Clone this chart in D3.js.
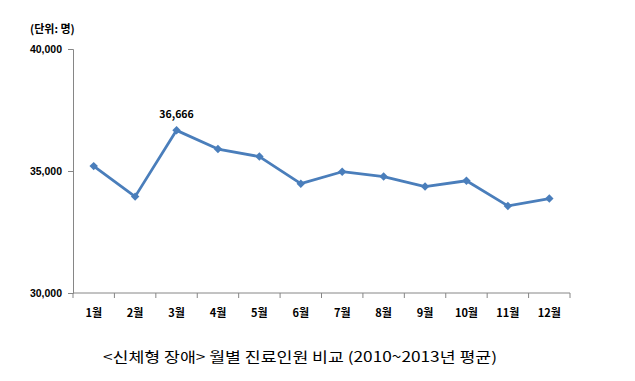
<!DOCTYPE html>
<html>
<head>
<meta charset="utf-8">
<script src="https://cdn.jsdelivr.net/npm/d3@7"></script>
<style>
  body { margin: 0; background: #fff; }
  svg { display: block; font-family: "Noto Sans CJK KR", "Noto Sans", sans-serif; }
</style>
</head>
<body>
<svg id="chart" width="635" height="381"></svg>
<script>
// monthly averages
const months = ["1월", "2월", "3월", "4월", "5월", "6월", "7월", "8월", "9월", "10월", "11월", "12월"];
const patients = [35200, 33950, 36666, 35900, 35590, 34480, 34970, 34770, 34360, 34600, 33570, 33870];
const yTicks = [30000, 35000, 40000];
const peakLabel = "36,666";

const svg = d3.select("#chart");
const plotL = 73, plotR = 570, plotT = 49, plotB = 293;
const axisColor = "#868686";
const lineColor = "#4a7ebb";

const x = d3.scaleBand().domain(months).range([plotL, plotR]);
const y = d3.scaleLinear().domain([30000, 40000]).range([plotB, plotT]);

// y axis
const yAxis = svg.append("g").attr("transform", `translate(${plotL},0)`)
  .call(d3.axisLeft(y).tickValues(yTicks).tickSize(5).tickPadding(6)
    .tickFormat(d3.format(",")));
yAxis.select(".domain").attr("stroke", axisColor);
yAxis.selectAll(".tick line").attr("stroke", axisColor);
yAxis.selectAll("text").attr("font-size", 10.5).attr("font-weight", "bold")
  .attr("fill", "#000");

// x axis: ticks at band edges, labels centered
const xAxis = svg.append("g").attr("transform", `translate(0,${plotB})`);
xAxis.append("line").attr("x1", plotL).attr("x2", plotR).attr("stroke", axisColor);
const edges = months.map((m) => x(m)).concat([plotR]);
xAxis.selectAll("line.tk").data(edges).join("line").attr("class", "tk")
  .attr("x1", (d) => d).attr("x2", (d) => d).attr("y1", 0).attr("y2", 5)
  .attr("stroke", axisColor);
xAxis.selectAll("text").data(months).join("text")
  .attr("x", (d) => x(d) + x.bandwidth() / 2).attr("y", 24)
  .attr("text-anchor", "middle").attr("font-size", 11).attr("font-weight", "bold")
  .text((d) => d);

// line + diamond markers
const cx = (d, i) => x(months[i]) + x.bandwidth() / 2;
svg.append("path").datum(patients)
  .attr("fill", "none").attr("stroke", lineColor).attr("stroke-width", 2.8)
  .attr("stroke-linejoin", "round")
  .attr("d", d3.line().x(cx).y((d) => y(d)));
svg.selectAll("path.mk").data(patients).join("path").attr("class", "mk")
  .attr("transform", (d, i) => `translate(${cx(d, i)},${y(d)}) rotate(45)`)
  .attr("d", "M-3,-3H3V3H-3Z").attr("fill", lineColor);

// peak label
const peakIdx = patients.indexOf(d3.max(patients));
svg.append("text").attr("x", cx(null, peakIdx)).attr("y", y(patients[peakIdx]) - 12)
  .attr("text-anchor", "middle").attr("font-size", 10.5).attr("font-weight", "bold")
  .text(peakLabel);

// unit
svg.append("text").attr("x", 30).attr("y", 33).attr("font-size", 11)
  .attr("font-weight", "bold").text("(단위: 명)");

// caption
svg.append("text").attr("x", 300).attr("y", 362).attr("text-anchor", "middle")
  .attr("font-size", 14).attr("textLength", 394).attr("lengthAdjust", "spacingAndGlyphs")
  .text("<신체형 장애> 월별 진료인원 비교 (2010~2013년 평균)");
</script>
</body>
</html>
